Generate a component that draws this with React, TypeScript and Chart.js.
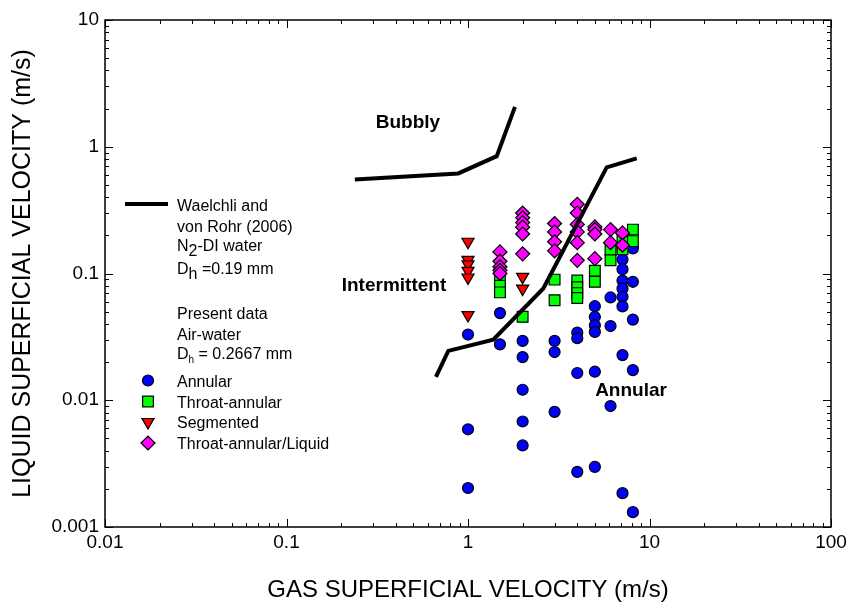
import React, { useEffect, useRef } from 'react';
import { Chart, registerables } from 'chart.js';
import { drawPoint } from 'chart.js/helpers';

Chart.register(...registerables);

const FONT = '"Liberation Sans", Arial, Helvetica, sans-serif';

// Axis ticks
const xTickValues = [0.01, 0.1, 1, 10, 100];
const xTickLabels = ['0.01', '0.1', '1', '10', '100'];
const yTickValues = [0.001, 0.01, 0.1, 1, 10];
const yTickLabels = ['0.001', '0.01', '0.1', '1', '10'];
const minorSteps = [2, 3, 4, 5, 6, 7, 8, 9];

// Present data: Annular (circles)
const annularX = [
  1.0, 1.0, 1.0,
  1.5, 1.5,
  2.0, 2.0, 2.0, 2.0, 2.0,
  3.0, 3.0, 3.0,
  4.0, 4.0, 4.0, 4.0,
  5.0, 5.0, 5.0, 5.0, 5.0, 5.0,
  6.1, 6.1, 6.1,
  7.1, 7.1, 7.1, 7.1, 7.1, 7.1, 7.1, 7.1, 7.1,
  8.1, 8.1, 8.1, 8.1, 8.1,
];
const annularY = [
  0.033, 0.0059, 0.00203,
  0.0487, 0.0276,
  0.0294, 0.0219, 0.0121, 0.0068, 0.0044,
  0.0294, 0.024, 0.0081,
  0.0342, 0.0309, 0.0164, 0.00272,
  0.0552, 0.0454, 0.039, 0.0346, 0.0168, 0.00298,
  0.0647, 0.0385, 0.009,
  0.158, 0.129, 0.108, 0.088, 0.076, 0.0655, 0.055, 0.0227, 0.00185,
  0.158, 0.086, 0.0433, 0.0173, 0.00131,
];

// Throat-annular (squares)
const throatX = [1.5, 1.5, 1.5, 2.0, 3.0, 3.0, 4.0, 4.0, 4.0, 4.0, 5.0, 5.0, 6.1, 6.1, 7.1, 7.1, 8.1, 8.1];
const throatY = [0.092, 0.08, 0.071, 0.0455, 0.0895, 0.0615, 0.088, 0.078, 0.07, 0.064, 0.105, 0.086, 0.153, 0.127, 0.185, 0.155, 0.222, 0.18];

// Segmented (down triangles)
const segX = [1.0, 1.0, 1.0, 1.0, 1.0, 1.0, 2.0, 2.0];
const segY = [0.178, 0.128, 0.118, 0.105, 0.093, 0.047, 0.094, 0.076];

// Throat-annular/Liquid (diamonds)
const tlX = [
  1.5, 1.5, 1.5, 1.5, 1.5,
  2.0, 2.0, 2.0, 2.0, 2.0, 2.0,
  3.0, 3.0, 3.0, 3.0,
  4.0, 4.0, 4.0, 4.0, 4.0, 4.0,
  5.0, 5.0, 5.0, 5.0,
  6.1, 6.1,
  7.1, 7.1,
];
const tlY = [
  0.148, 0.125, 0.113, 0.106, 0.1,
  0.3, 0.275, 0.252, 0.232, 0.205, 0.143,
  0.248, 0.213, 0.178, 0.151,
  0.352, 0.3, 0.244, 0.213, 0.175, 0.127,
  0.233, 0.222, 0.205, 0.131,
  0.222, 0.175,
  0.209, 0.167,
];

// Waelchli and von Rohr (2006) transition lines
const bubblyLineX = [0.238, 0.884, 1.44, 1.815];
const bubblyLineY = [0.552, 0.616, 0.843, 2.065];
const annularLineX = [0.666, 0.779, 1.378, 2.6, 5.81, 8.5];
const annularLineY = [0.0153, 0.0245, 0.0301, 0.0762, 0.687, 0.809];

// Regime labels (data coordinates)
const regimeLabels = ['Bubbly', 'Intermittent', 'Annular'];
const regimeX = [0.467, 0.391, 7.91];
const regimeY = [1.56, 0.0794, 0.0118];

const xTitle = 'GAS SUPERFICIAL VELOCITY (m/s)';
const yTitle = 'LIQUID SUPERFICIAL VELOCITY (m/s)';

const seriesNames = ['Annular', 'Throat-annular', 'Segmented', 'Throat-annular/Liquid'];

const pts = (xs: number[], ys: number[]) => xs.map((x, i) => ({ x, y: ys[i] }));

const markerStyles = [
  { pointStyle: 'circle', radius: 5.5, rotation: 0, color: '#0000ff' },
  { pointStyle: 'rect', radius: 7.6, rotation: 0, color: '#00ff00' },
  { pointStyle: 'triangle', radius: 7, rotation: 180, color: '#ff0000' },
  { pointStyle: 'rectRot', radius: 7, rotation: 0, color: '#ff00ff' },
];

const framePlugin = {
  id: 'frameTicks',
  beforeDatasetsDraw(chart: any) {
    const { ctx, chartArea: a } = chart;
    const xs = chart.scales.x;
    const ys = chart.scales.y;
    ctx.save();
    ctx.strokeStyle = '#000';
    ctx.lineWidth = 1;
    ctx.beginPath();
    const tickX = (v: number, len: number) => {
      const p = Math.round(xs.getPixelForValue(v)) + 0.5;
      ctx.moveTo(p, a.bottom);
      ctx.lineTo(p, a.bottom - len);
      ctx.moveTo(p, a.top);
      ctx.lineTo(p, a.top + len);
    };
    const tickY = (v: number, len: number) => {
      const p = Math.round(ys.getPixelForValue(v)) + 0.5;
      ctx.moveTo(a.left, p);
      ctx.lineTo(a.left + len, p);
      ctx.moveTo(a.right, p);
      ctx.lineTo(a.right - len, p);
    };
    xTickValues.forEach((d, i) => {
      tickX(d, 8);
      if (i < xTickValues.length - 1) minorSteps.forEach((m) => tickX(d * m, 4));
    });
    yTickValues.forEach((d, i) => {
      tickY(d, 8);
      if (i < yTickValues.length - 1) minorSteps.forEach((m) => tickY(d * m, 4));
    });
    ctx.stroke();
    ctx.lineWidth = 1.5;
    ctx.strokeRect(a.left, a.top, a.right - a.left, a.bottom - a.top);
    ctx.restore();
  },
};

const textPlugin = {
  id: 'textLayer',
  afterDraw(chart: any) {
    const { ctx } = chart;
    const xs = chart.scales.x;
    const ys = chart.scales.y;
    ctx.save();
    ctx.fillStyle = '#000';
    // regime labels
    ctx.font = `bold 19px ${FONT}`;
    ctx.textAlign = 'center';
    ctx.textBaseline = 'middle';
    regimeLabels.forEach((t, i) => {
      ctx.fillText(t, xs.getPixelForValue(regimeX[i]), ys.getPixelForValue(regimeY[i]));
    });

    // legend
    const lx = 177;
    const fs = 16;
    ctx.textAlign = 'left';
    ctx.textBaseline = 'alphabetic';
    const seg = (parts: { t: string; sub?: number }[], y: number) => {
      let x = lx;
      parts.forEach((p) => {
        if (p.sub) {
          const sz = p.sub === 1 ? fs : 10;
          ctx.font = `${sz}px ${FONT}`;
          ctx.fillText(p.t, x, y + (p.sub === 1 ? 5 : 4));
          x += ctx.measureText(p.t).width;
        } else {
          ctx.font = `${fs}px ${FONT}`;
          ctx.fillText(p.t, x, y);
          x += ctx.measureText(p.t).width;
        }
      });
    };
    // line sample
    ctx.strokeStyle = '#000';
    ctx.lineWidth = 4;
    ctx.beginPath();
    ctx.moveTo(125, 204);
    ctx.lineTo(168, 204);
    ctx.stroke();
    seg([{ t: 'Waelchli and' }], 211);
    seg([{ t: 'von Rohr (2006)' }], 232);
    seg([{ t: 'N' }, { t: '2', sub: 1 }, { t: '-DI water' }], 251);
    seg([{ t: 'D' }, { t: 'h', sub: 1 }, { t: ' =0.19 mm' }], 274);
    seg([{ t: 'Present data' }], 319);
    seg([{ t: 'Air-water' }], 340);
    seg([{ t: 'D' }, { t: 'h', sub: 2 }, { t: ' = 0.2667 mm' }], 359);
    const rowY = [380.5, 401.5, 422, 443];
    seriesNames.forEach((name, i) => {
      const m = markerStyles[i];
      ctx.fillStyle = m.color;
      ctx.strokeStyle = '#000';
      ctx.lineWidth = 1.2;
      drawPoint(ctx, { pointStyle: m.pointStyle as any, radius: m.radius, rotation: m.rotation, borderWidth: 1.2 }, 148, rowY[i]);
      ctx.fillStyle = '#000';
      ctx.font = `${fs}px ${FONT}`;
      ctx.fillText(name, lx, rowY[i] + 6);
    });
    ctx.restore();
  },
};

export default function App() {
  const ref = useRef<HTMLCanvasElement>(null);
  useEffect(() => {
    const canvas = ref.current!;
    const pointDs = (label: string, xs: number[], ys: number[], idx: number) => {
      const m = markerStyles[idx];
      return {
        label,
        data: pts(xs, ys),
        pointStyle: m.pointStyle,
        pointRadius: m.radius,
        pointRotation: m.rotation,
        pointBackgroundColor: m.color,
        pointBorderColor: '#000',
        pointBorderWidth: 1.2,
        showLine: false,
      };
    };
    const lineDs = (label: string, xs: number[], ys: number[]) => ({
      label,
      data: pts(xs, ys),
      showLine: true,
      borderColor: '#000',
      borderWidth: 4,
      pointRadius: 0,
      fill: false,
      tension: 0,
    });
    const chart = new Chart(canvas, {
      type: 'scatter',
      data: {
        datasets: [
          lineDs('Bubbly boundary', bubblyLineX, bubblyLineY),
          lineDs('Annular boundary', annularLineX, annularLineY),
          pointDs(seriesNames[3], tlX, tlY, 3),
          pointDs(seriesNames[2], segX, segY, 2),
          pointDs(seriesNames[1], throatX, throatY, 1),
          pointDs(seriesNames[0], annularX, annularY, 0),
        ] as any,
      },
      options: {
        animation: false,
        responsive: false,
        devicePixelRatio: 1,
        layout: { padding: { left: 0, right: 20, top: 20, bottom: 0 } },
        plugins: { legend: { display: false }, tooltip: { enabled: false } },
        scales: {
          x: {
            type: 'logarithmic',
            position: 'bottom',
            min: 0.01,
            max: 100,
            grid: { display: false, drawTicks: false },
            border: { display: false },
            afterBuildTicks: (s: any) => {
              s.ticks = xTickValues.map((v) => ({ value: v }));
            },
            afterFit: (s: any) => {
              s.height = 84;
            },
            ticks: {
              autoSkip: false,
              maxRotation: 0,
              padding: 4,
              color: '#000',
              font: { family: FONT, size: 19 },
              callback: (v: any) => {
                const i = xTickValues.indexOf(Number(v));
                return i >= 0 ? xTickLabels[i] : '';
              },
            },
            title: {
              display: true,
              text: xTitle,
              color: '#000',
              font: { family: FONT, size: 24 },
              padding: { top: 0, bottom: 6 },
            },
          },
          y: {
            type: 'logarithmic',
            position: 'left',
            min: 0.001,
            max: 10,
            grid: { display: false, drawTicks: false },
            border: { display: false },
            afterBuildTicks: (s: any) => {
              s.ticks = yTickValues.map((v) => ({ value: v }));
            },
            afterFit: (s: any) => {
              s.width = 105;
            },
            ticks: {
              autoSkip: false,
              padding: 6,
              color: '#000',
              font: { family: FONT, size: 19 },
              callback: (v: any) => {
                const i = yTickValues.indexOf(Number(v));
                return i >= 0 ? yTickLabels[i] : '';
              },
            },
            title: {
              display: true,
              text: yTitle,
              color: '#000',
              font: { family: FONT, size: 25 },
              padding: { top: 8, bottom: 0 },
            },
          },
        },
      } as any,
      plugins: [framePlugin, textPlugin],
    });
    return () => chart.destroy();
  }, []);
  return (
    <div style={{ position: 'absolute', left: 0, top: 0, width: 851, height: 611, background: '#fff' }}>
      <canvas ref={ref} width={851} height={611} style={{ display: 'block' }} />
    </div>
  );
}
